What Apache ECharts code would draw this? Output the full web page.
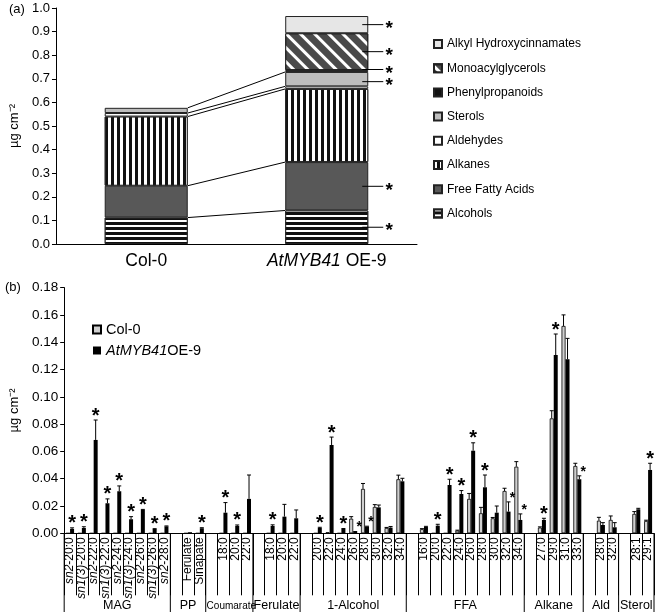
<!DOCTYPE html>
<html><head><meta charset="utf-8">
<script src="https://cdn.jsdelivr.net/npm/echarts@6/dist/echarts.min.js"></script>
<style>html,body{margin:0;padding:0;background:#fff}#c{width:658px;height:612px}</style>
</head><body><div id="c"></div>
<script>
const FONT = "'Liberation Sans', Arial, sans-serif";

// ---------- panel (a) ----------
const genotypes = ['Col-0', 'AtMYB41 OE-9'];
const classNames = ['Alcohols', 'Free Fatty Acids', 'Alkanes', 'Aldehydes', 'Sterols',
  'Phenylpropanoids', 'Monoacylglycerols', 'Alkyl Hydroxycinnamates'];
const col0Class = [0.112, 0.135, 0.293, 0.015, 0.022, 0, 0, 0];
const oe9Class = [0.142, 0.205, 0.310, 0.011, 0.061, 0.008, 0.156, 0.073];
const oe9ClassStar = [1, 1, 0, 0, 1, 1, 1, 1];
const yTicksA = [0, 1, 0.1];

// ---------- panel (b) ----------
const catLabels = [
  'sn2-20:0', 'sn1(3)-20:0', 'sn2-22:0', 'sn1(3)-22:0', 'sn2-24:0', 'sn1(3)-24:0', 'sn2-26:0', 'sn1(3)-26:0', 'sn2-28:0',
  '', 'Ferulate', 'Sinapate',
  '', '18:0', '20:0', '22:0',
  '', '18:0', '20:0', '22:0',
  '', '20:0', '22:0', '24:0', '26:0', '28:0', '30:0', '32:0', '34:0',
  '', '16:0', '20:0', '22:0', '24:0', '26:0', '28:0', '30:0', '32:0', '34:0',
  '', '27:0', '29:0', '31:0', '33:0',
  '', '28:0', '32:0',
  '', '28:1', '29:1'
];
const groupNames = ['MAG', 'PP', 'Coumarate', 'Ferulate', '1-Alcohol', 'FFA', 'Alkane', 'Ald', 'Sterol'];
const groupSizes = [9, 3, 4, 4, 9, 10, 5, 3, 3];
const col0Vals = [
  0, 0, 0, 0, 0, 0, 0, 0, 0,
  null, 0, 0,
  null, 0, 0, 0,
  null, 0, 0, 0,
  null, 0, 0.0008, 0, 0.0107, 0.0325, 0.0193, 0.0039, 0.0396,
  null, 0.003, 0, 0, 0.002, 0.0252, 0.0147, 0.011, 0.031, 0.0488,
  null, 0.0042, 0.0842, 0.1519, 0.0493,
  null, 0.0093, 0.0098,
  null, 0.0142, 0.009
];
const col0Err = [
  0, 0, 0, 0, 0, 0, 0, 0, 0,
  0, 0, 0,
  0, 0, 0, 0,
  0, 0, 0, 0,
  0, 0, 0, 0, 0.0015, 0.004, 0.0017, 0.0004, 0.003,
  0, 0.0004, 0, 0, 0.0003, 0.004, 0.0043, 0.0006, 0.002, 0.0037,
  0, 0.0005, 0.0056, 0.0081, 0.002,
  0, 0.0024, 0.0029,
  0, 0.0017, 0.0006
];
const oe9Vals = [
  0.0032, 0.0039, 0.0684, 0.022, 0.0308, 0.0103, 0.0171, 0.0032, 0.0051,
  null, 0.0008, 0.0037,
  null, 0.0151, 0.0054, 0.0252,
  null, 0.0054, 0.0122, 0.011,
  null, 0.0039, 0.0647, 0.0032, 0.001, 0.0049, 0.019, 0.0042, 0.0381,
  null, 0.0046, 0.0056, 0.0354, 0.0288, 0.0605, 0.0337, 0.0151, 0.0159, 0.0098,
  null, 0.0098, 0.1306, 0.1275, 0.0396,
  null, 0.0061, 0.0044,
  null, 0.0176, 0.0464
];
const oe9Err = [
  0.0008, 0.0009, 0.0146, 0.0032, 0.0039, 0.0019, 0.0004, 0.0002, 0.0003,
  0, 0, 0.0004,
  0, 0.0074, 0.0007, 0.0175,
  0, 0.0008, 0.009, 0.0061,
  0, 0.0005, 0.0058, 0.0003, 0.0003, 0.0003, 0.0017, 0.0008, 0.0022,
  0, 0.0005, 0.001, 0.0042, 0.0025, 0.0058, 0.009, 0.0049, 0.0071, 0.0044,
  0, 0.0012, 0.0154, 0.0153, 0.0025,
  0, 0.0017, 0.0034,
  0, 0.0007, 0.0049
];
// 1 = large asterisk above bar, 2 = small asterisk to the upper right
const oe9Star = [
  1, 1, 1, 1, 1, 1, 1, 1, 1,
  0, 0, 1,
  0, 1, 1, 0,
  0, 1, 0, 0,
  0, 1, 1, 1, 2, 2, 0, 0, 0,
  0, 0, 1, 1, 1, 1, 1, 0, 2, 2,
  0, 1, 1, 0, 2,
  0, 0, 0,
  0, 0, 1
];
const yTicksB = [0, 0.18, 0.02];

// ---------- build ----------
function cum(arr) { let s = 0; return arr.map(v => (s += v)); }
const colCum = cum(col0Class), oeCum = cum(oe9Class);

const decals = {
  'Alcohols': { symbol: 'rect', symbolSize: 1, dashArrayX: [1, 0], dashArrayY: [2, 2.5], color: '#fff' },
  'Alkanes': { symbol: 'rect', symbolSize: 1, dashArrayX: [3, 3], dashArrayY: [1, 0], color: '#fff' },
  'Monoacylglycerols': { symbol: 'rect', symbolSize: 1, dashArrayX: [1, 0], dashArrayY: [3, 7], rotation: Math.PI / 4, color: '#fff' }
};
const fills = {
  'Alcohols': '#111', 'Free Fatty Acids': '#585858', 'Alkanes': '#111', 'Aldehydes': '#fff',
  'Sterols': '#bdbdbd', 'Phenylpropanoids': '#111', 'Monoacylglycerols': '#4a4a4a', 'Alkyl Hydroxycinnamates': '#e6e6e6'
};
// small vertical nudges (px) for crowded asterisks in panel (a)
const starNudgeA = [0, 0, 0, 0, 2.5, -1.5, 0, 0];
const BARW_A = 0.46;

const seriesA = classNames.map((n, k) => {
  const st = { color: fills[n], borderColor: '#222', borderWidth: 1 };
  if (decals[n]) st.decal = decals[n];
  return {
    name: n, type: 'bar', stack: 'tot', xAxisIndex: 0, yAxisIndex: 0,
    barWidth: (BARW_A * 100) + '%',
    data: [col0Class[k] || null, oe9Class[k] || null],
    itemStyle: st,
    emphasis: { disabled: true }
  };
});

const linkData = [];
col0Class.forEach((v, k) => { if (v > 0) linkData.push([0, colCum[k], oeCum[k]]); });
const starAData = [];
oe9Class.forEach((v, k) => { if (oe9ClassStar[k]) starAData.push([1, oeCum[k] - v, oeCum[k], starNudgeA[k]]); });

function starText(x, y, size) {
  return { type: 'text', x: x, y: y, style: { text: '*', fill: '#000', fontSize: size, fontWeight: 'bold', fontFamily: FONT, align: 'center', verticalAlign: 'middle' } };
}

const linkSeries = {
  type: 'custom', xAxisIndex: 0, yAxisIndex: 0, z: 5, silent: true,
  data: linkData,
  renderItem: function (params, api) {
    const a = api.coord([0, api.value(1)]);
    const b = api.coord([1, api.value(2)]);
    const half = api.size([1, 0])[0] * BARW_A / 2;
    return { type: 'line', shape: { x1: a[0] + half, y1: a[1], x2: b[0] - half, y2: b[1] }, style: { stroke: '#000', lineWidth: 1 } };
  }
};
const starASeries = {
  type: 'custom', xAxisIndex: 0, yAxisIndex: 0, z: 5, silent: true,
  data: starAData,
  renderItem: function (params, api) {
    const mid = (api.value(1) + api.value(2)) / 2;
    const p = api.coord([1, mid]);
    const y = p[1] + api.value(3);
    const half = api.size([1, 0])[0] * BARW_A / 2;
    const xr = p[0] + half;
    return { type: 'group', children: [
      { type: 'line', shape: { x1: xr - 6, y1: y, x2: xr + 15, y2: y }, style: { stroke: '#000', lineWidth: 1 } },
      starText(xr + 21, y + 4, 19)
    ] };
  }
};

// panel (b)
const catKeys = catLabels.map((l, i) => i + '|' + l);
const errData = [];
catLabels.forEach((l, i) => {
  if (col0Vals[i] !== null && col0Vals[i] > 0) errData.push([i, col0Vals[i], col0Err[i], 0, 0]);
  if (oe9Vals[i] !== null && oe9Vals[i] > 0) errData.push([i, oe9Vals[i], oe9Err[i], 1, oe9Star[i]]);
});
const groupStarts = [];
groupSizes.reduce((s, n) => { groupStarts.push(s); return s + n; }, 0);

const BW_B = 4;
const errSeries = {
  type: 'custom', xAxisIndex: 1, yAxisIndex: 1, z: 5, silent: true,
  data: errData,
  renderItem: function (params, api) {
    const i = api.value(0), v = api.value(1), e = api.value(2), s = api.value(3), st = api.value(4);
    const c = api.coord([i, v]);
    const t = api.coord([i, v + e]);
    const x = c[0] + (s === 0 ? -BW_B / 2 : BW_B / 2);
    const ch = [];
    if (e > 0) {
      ch.push({ type: 'line', shape: { x1: x, y1: c[1], x2: x, y2: t[1] }, style: { stroke: '#000', lineWidth: 1 } });
      ch.push({ type: 'line', shape: { x1: x - 2, y1: t[1], x2: x + 2, y2: t[1] }, style: { stroke: '#000', lineWidth: 1 } });
    }
    if (st === 1) ch.push(starText(x, t[1] - 4, 20));
    if (st === 2) ch.push(starText(x + 4, t[1] - 4, 14));
    return { type: 'group', children: ch };
  }
};
const groupSeries = {
  type: 'custom', xAxisIndex: 1, yAxisIndex: 1, z: 5, silent: true,
  data: groupStarts.map((s, g) => [s, 0, g]),
  renderItem: function (params, api) {
    const g = params.dataIndex;
    const bw = api.size([1, 0])[0];
    const c0 = api.coord([groupStarts[g], 0]);
    const xL = c0[0] - bw / 2;
    const xR = xL + groupSizes[g] * bw;
    const ch = [
      { type: 'line', shape: { x1: xL, y1: c0[1], x2: xL, y2: 612 }, style: { stroke: '#000', lineWidth: 1 } },
      { type: 'text', x: (xL + xR) / 2 + (groupNames[g] === 'Coumarate' ? 2 : 0), y: 606, style: { text: groupNames[g], fill: '#000', fontSize: groupNames[g] === 'Coumarate' ? 10 : 12.5, fontFamily: FONT, align: 'center', verticalAlign: 'middle' } }
    ];
    if (g === groupSizes.length - 1) ch.push({ type: 'line', shape: { x1: xR, y1: c0[1], x2: xR, y2: 612 }, style: { stroke: '#000', lineWidth: 1 } });
    return { type: 'group', children: ch };
  }
};

const axisLineBlack = { show: true, lineStyle: { color: '#000', width: 1 } };

const option = {
  animation: false,
  backgroundColor: '#fff',
  textStyle: { fontFamily: FONT, color: '#000' },
  graphic: [
    { type: 'text', left: 9, top: 3, style: { text: '(a)', fontSize: 13, fontFamily: FONT, fill: '#000' } },
    { type: 'text', left: 5, top: 281, style: { text: '(b)', fontSize: 13, fontFamily: FONT, fill: '#000' } }
  ],
  legend: [
    {
      orient: 'vertical', left: 428, top: 33, itemWidth: 8, itemHeight: 8, itemGap: 12.2,
      data: classNames.slice().reverse(), selectedMode: false,
      textStyle: { fontSize: 12, fontFamily: FONT, color: '#000' }, icon: 'rect'
    },
    {
      orient: 'vertical', left: 87, top: 317, itemWidth: 8, itemHeight: 8, itemGap: 6,
      data: ['Col-0', 'AtMYB41 OE-9'], selectedMode: false, icon: 'rect',
      formatter: n => n.indexOf('AtMYB41') === 0 ? '{i|AtMYB41}OE-9' : n,
      textStyle: { fontSize: 14.5, fontFamily: FONT, color: '#000', rich: { i: { fontStyle: 'italic', fontSize: 14.5, fontFamily: FONT } } }
    }
  ],
  grid: [
    { left: 55, top: 8, width: 362, height: 236 },
    { left: 58, top: 287.6, width: 596, height: 245.7 }
  ],
  xAxis: [
    {
      type: 'category', gridIndex: 0, data: genotypes,
      axisLine: axisLineBlack, axisTick: { show: false },
      axisLabel: {
        interval: 0, margin: 8, fontSize: 17.5, fontFamily: FONT, color: '#000',
        formatter: v => v.indexOf('AtMYB41') === 0 ? '{i|AtMYB41} OE-9' : v,
        rich: { i: { fontStyle: 'italic', fontSize: 17.5, fontFamily: FONT } }
      }
    },
    {
      type: 'category', gridIndex: 1, data: catKeys,
      axisLine: axisLineBlack,
      axisTick: { show: true, interval: 0, length: 62, lineStyle: { color: '#000', width: 1 } },
      axisLabel: {
        interval: 0, rotate: 90, margin: 4, fontSize: 12, fontFamily: FONT, color: '#000',
        formatter: function (v) {
          const l = v.slice(v.indexOf('|') + 1);
          const m = l.match(/^(sn\d(?:\(\d\))?)(-.*)$/);
          return m ? '{i|' + m[1] + '}' + m[2] : l;
        },
        rich: { i: { fontStyle: 'italic', fontSize: 12, fontFamily: FONT } }
      }
    }
  ],
  yAxis: [
    {
      type: 'value', gridIndex: 0, min: yTicksA[0], max: yTicksA[1], interval: yTicksA[2],
      axisLine: axisLineBlack, axisTick: { show: true, length: 4, lineStyle: { color: '#000' } },
      splitLine: { show: false },
      axisLabel: { fontSize: 13, fontFamily: FONT, color: '#000', margin: 6, formatter: v => v.toFixed(1) },
      name: 'µg cm⁻²', nameLocation: 'middle', nameGap: 31, nameRotate: 90,
      nameTextStyle: { fontSize: 13, fontFamily: FONT, color: '#000' }
    },
    {
      type: 'value', gridIndex: 1, min: yTicksB[0], max: yTicksB[1], interval: yTicksB[2],
      axisLine: axisLineBlack, axisTick: { show: true, length: 4, lineStyle: { color: '#000' } },
      splitLine: { show: false },
      axisLabel: { fontSize: 13.5, fontFamily: FONT, color: '#000', margin: 6, formatter: v => v.toFixed(2) },
      name: 'µg cm⁻²', nameLocation: 'middle', nameGap: 42, nameRotate: 90,
      nameTextStyle: { fontSize: 13, fontFamily: FONT, color: '#000' }
    }
  ],
  series: seriesA.concat([
    linkSeries, starASeries,
    {
      name: 'Col-0', type: 'bar', xAxisIndex: 1, yAxisIndex: 1, barWidth: BW_B, barGap: '0%',
      data: col0Vals, itemStyle: { color: '#cfcfcf', borderColor: '#000', borderWidth: 0.8 }, emphasis: { disabled: true }
    },
    {
      name: 'AtMYB41 OE-9', type: 'bar', xAxisIndex: 1, yAxisIndex: 1, barWidth: BW_B, barGap: '0%',
      data: oe9Vals, itemStyle: { color: '#000' }, emphasis: { disabled: true }
    },
    errSeries, groupSeries
  ])
};

const chart = echarts.init(document.getElementById('c'), null, { renderer: 'canvas' });
chart.setOption(option);
</script>
</body></html>
